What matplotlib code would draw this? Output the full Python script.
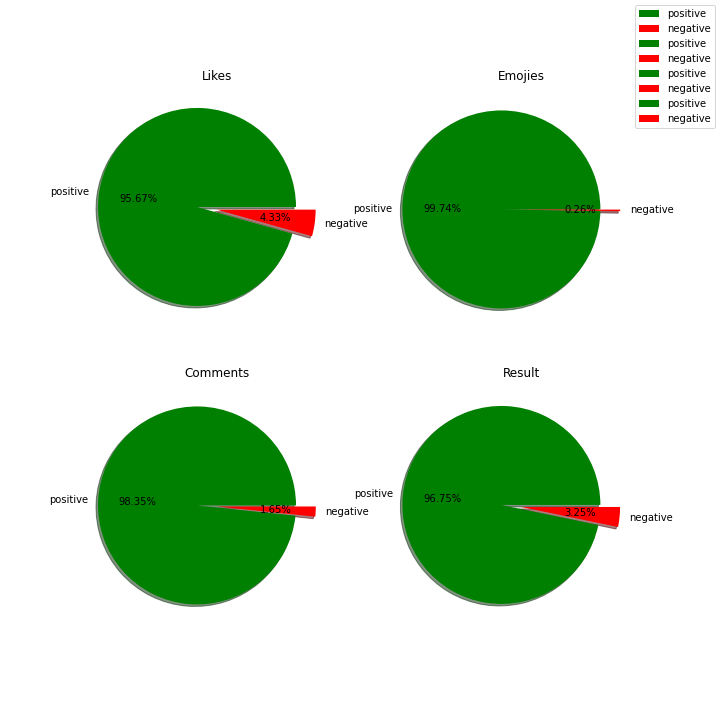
import matplotlib
matplotlib.use("Agg")
import matplotlib.pyplot as plt

labels = ["positive", "negative"]
titles = ["Likes", "Emojies", "Comments", "Result"]
likes = [95.67, 4.33]
emojies = [99.74, 0.26]
comments = [98.35, 1.65]
result = [96.75, 3.25]
colors = ["green", "red"]
explode = (0, 0.2)

# view centre of each pie panel (data units), pie sits a bit left/up in its box
view_x = [0.2, 0.2, 0.2, 0.2]
view_y = [-0.055, -0.03, -0.04, -0.045]
PX_PER_UNIT = 99.0

fig, axes = plt.subplots(2, 2, figsize=(10, 10), dpi=72)
fig.subplots_adjust(bottom=0.1175, hspace=0.1786)

for i, (ax, title, values) in enumerate(
        zip(axes.flat, titles, [likes, emojies, comments, result])):
    ax.pie(values, labels=labels, colors=colors, explode=explode,
           autopct="%.2f%%", shadow=True)
    ax.set_title(title)
    ax.set_aspect("auto")
    box = ax.get_position()
    half_w = box.width * fig.bbox.width / (2 * PX_PER_UNIT)
    half_h = box.height * fig.bbox.height / (2 * PX_PER_UNIT)
    ax.set_xlim(view_x[i] - half_w, view_x[i] + half_w)
    ax.set_ylim(view_y[i] - half_h, view_y[i] + half_h)

fig.legend()
fig.savefig("out.png")
